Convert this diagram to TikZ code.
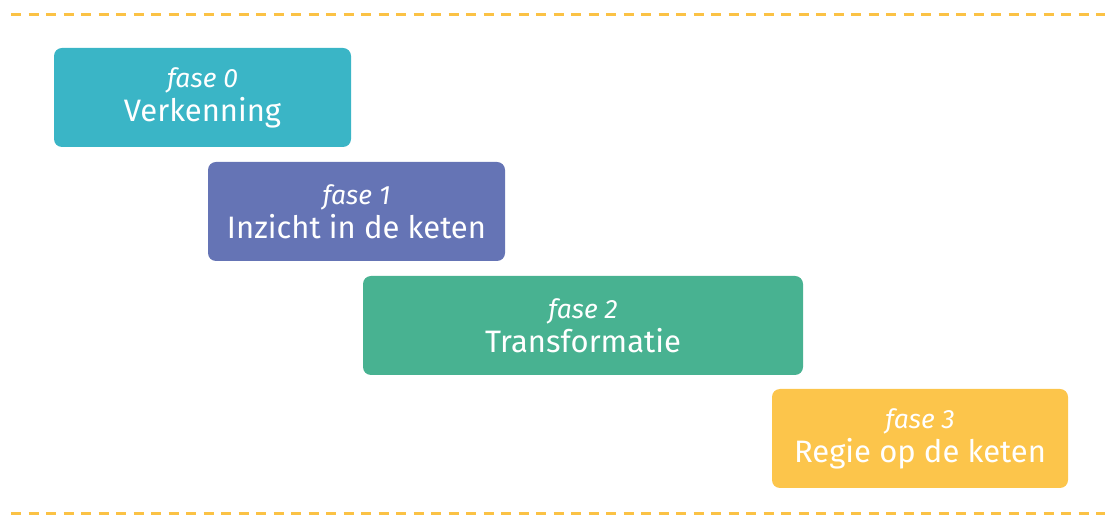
\documentclass[tikz,border=0pt]{standalone}
\usepackage{fontspec}
\setmainfont{Fira Sans}
\definecolor{teal0}{HTML}{3AB5C6}
\definecolor{indigo1}{HTML}{6574B5}
\definecolor{green2}{HTML}{48B291}
\definecolor{yellow3}{HTML}{FCC54B}
\definecolor{rule}{HTML}{FBC245}
\tikzset{
  phase/.style={draw=none, rounded corners=8pt, minimum height=99pt,
    text=white, align=center, inner sep=0pt,
    font=\fontsize{31}{34}\selectfont},
  band/.style={draw=rule, line width=3pt, dash pattern=on 10pt off 7.5pt}
}
\newcommand{\phasetag}[1]{{\fontsize{26.5}{30}\selectfont\itshape fase #1}}
\begin{document}
\begin{tikzpicture}[x=1pt,y=1pt]
  \useasboundingbox (0,0) rectangle (1105,516);
  % dashed bands above and below
  \coordinate (tl) at (11,501);
  \coordinate (tr) at (1105,501);
  \coordinate (bl) at (11,2);
  \coordinate (br) at (1105,2);
  \draw[band] (tl) -- (tr);
  \draw[band] (bl) -- (br);
  % the four phases, stepping down to the right
  \node[phase, fill=teal0, minimum width=297pt] (f0) at (202.5,418.5)
    {\phasetag{0}\\[0pt]Verkenning};
  \node[phase, fill=indigo1, minimum width=297pt] (f1) at (356.5,304.5)
    {\phasetag{1}\\[0pt]Inzicht in de keten};
  \node[phase, fill=green2, minimum width=440pt] (f2) at (583,190.5)
    {\phasetag{2}\\[0pt]Transformatie};
  \node[phase, fill=yellow3, minimum width=296pt] (f3) at (920,77.5)
    {\phasetag{3}\\[0pt]Regie op de keten};
\end{tikzpicture}
\end{document}
